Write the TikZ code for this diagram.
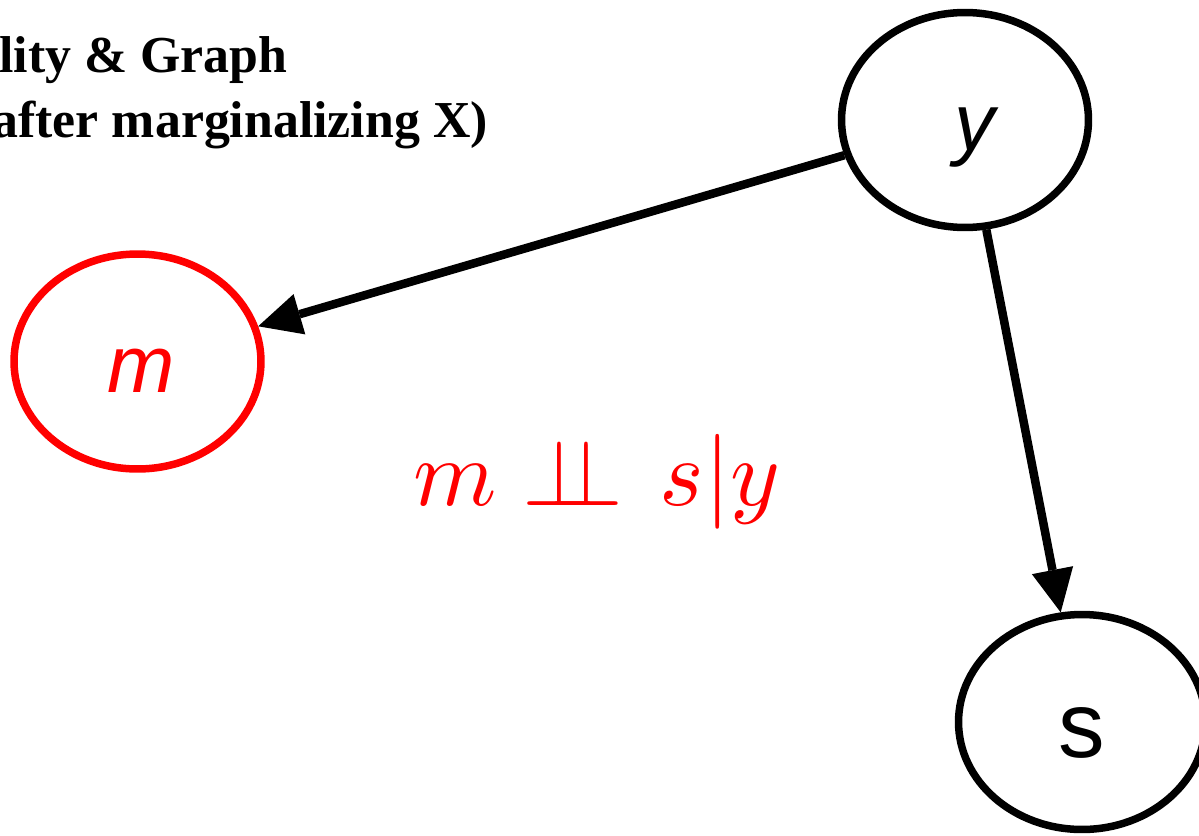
\documentclass[tikz,border=0pt]{standalone}
\usepackage{fontspec}
\setmainfont{Liberation Serif}
\newfontfamily\labfont{Liberation Sans}
\usepackage{graphicx}
\usetikzlibrary{shapes.geometric,arrows.meta}
\begin{document}
\begin{tikzpicture}[x=0.02cm,y=-0.02cm,
  var/.style={ellipse, draw, line width=0.15cm, minimum width=4.94cm, minimum height=4.30cm,
    inner sep=0pt, font=\labfont\itshape\fontsize{46pt}{50pt}\selectfont,
    text height=1.22cm, text depth=0pt, text width=1.2cm, align=right},
  edge/.style={line width=0.17cm, -{Triangle[length=0.86cm,width=0.84cm,line width=0pt]}},
  ttl/.style={font=\bfseries\fontsize{29.5pt}{35pt}\selectfont, inner sep=0pt}]
\useasboundingbox (0,0) rectangle (1199,835);
\clip (0,0) rectangle (1199,835);
\node[ttl, anchor=base west] (t1) at (-1,72) {lity \& Graph};
\node[ttl, anchor=base east] (t2) at (488,137) {after marginalizing X)};
\node[var, red] (m) at (137.5,361.5) {m\hspace*{0.27cm}};
\node[var] (y) at (965,120) {y\hspace*{0.37cm}};
\node[var, font=\labfont\fontsize{53pt}{56pt}\selectfont, text height=1.40cm, align=center] (s) at (1082,722) {s};
\draw[edge] (y) -- (m);
\draw[edge] (y) -- (s);
\node[red, inner sep=0pt, anchor=base] (ci) at (597,505)
  {\scalebox{5.4}{$m \mathrel{\perp\mkern-9mu\perp}\mkern2mu s|y$}};
\end{tikzpicture}
\end{document}
